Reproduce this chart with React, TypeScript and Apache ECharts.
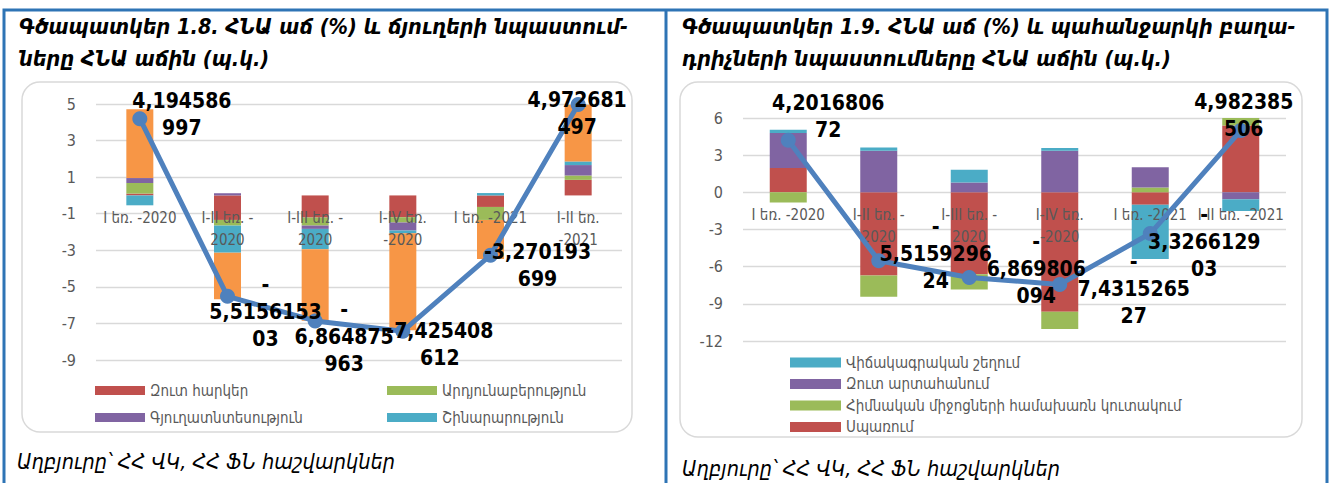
import React, { useEffect, useRef } from "react";
import * as echarts from "echarts";

// ---------- data ----------
const leftCategories = ["I եռ. -2020", "I-II եռ. -\n2020", "I-III եռ. -\n2020", "I-IV եռ.\n-2020", "I եռ. -2021", "I-II եռ.\n-2021"];
const rightCategories = ["I եռ. -2020", "I-II եռ. -\n2020", "I-III եռ. -\n2020", "I-IV եռ.\n-2020", "I եռ. -2021", "I-II եռ. -2021"];

// Chart 1.8 – branch contributions (p.p.)
const netTaxes = [0.1, -1.34, -1.21, -1.19, -0.63, 0.85];
const industry = [0.58, -0.31, -0.44, -0.29, -0.71, 0.24];
const agriculture = [0.27, 0.12, -0.18, -0.44, 0, 0.57];
const construction = [-0.54, -1.48, -1.11, -0.15, 0.13, 0.2];
const services = [3.76, -2.55, -3.92, -5.3, -2.13, 3.1];
const gdpGrowthLeft = [4.194586997, -5.515615303, -6.864875963, -7.425408612, -3.270193699, 4.972681497];
const gdpLabelsLeft = ["4,194586\n997", "-\n5,5156153\n03", "-\n6,864875\n963", "-7,425408\n612", "-3,270193\n699", "4,972681\n497"];

// Chart 1.9 – demand contributions (p.p.)
const consumption = [1.96, -6.72, -6.62, -9.64, -1.01, 5.4];
const investment = [-0.82, -1.7, -1.22, -1.4, 0.4, 1.05];
const netExports = [2.83, 3.35, 0.79, 3.35, 1.62, -0.55];
const discrepancy = [0.27, 0.27, 1.03, 0.22, -4.37, -0.95];
const gdpGrowthRight = [4.201680672, -5.515929624, -6.869806094, -7.431526527, -3.326612903, 4.982385506];
const gdpLabelsRight = ["4,2016806\n72", "-\n5,5159296\n24", "-\n6,869806\n094", "-\n7,4315265\n27", "-\n3,3266129\n03", "4,982385\n506"];

const leftYTicks = { min: -9, max: 5, interval: 2 };
const rightYTicks = { min: -12, max: 6, interval: 3 };

// ---------- styling ----------
const FF = "'DejaVu Sans Condensed', 'DejaVu Sans', sans-serif";
const RED = "#C0504D";
const GREEN = "#9BBB59";
const PURPLE = "#8064A2";
const CYAN = "#4BACC6";
const ORANGE = "#F79646";
const LINE = "#4F81BD";
const AXIS_TXT = "#595959";
const GRIDC = "#D9D9D9";
const BORDER = "#2E74B5";

const leftLabelOffsets = [[42, -4], [38, 16], [29, 16], [37, 13], [47, 10], [-1, 9]];
const rightLabelOffsets = [[40, -24], [57, -7], [67, -8], [74, 5], [54, 8], [3, -15]];

const leftGrid = { left: 96, top: 104, width: 526, height: 256 };
const rightGrid = { left: 743, top: 118, width: 543, height: 223 };

export default function App() {
  const ref = useRef<HTMLDivElement>(null);
  useEffect(() => {
    if (!ref.current) return;
    const chart = echarts.init(ref.current, undefined, { renderer: "svg" });

    const barSeries = (name: string, data: number[], color: string, axis: number, stack: string, w: number) => ({
      name,
      type: "bar",
      stack,
      xAxisIndex: axis,
      yAxisIndex: axis,
      barWidth: w,
      data,
      itemStyle: { color },
      emphasis: { disabled: true },
    });

    const lineSeries = (name: string, data: number[], labels: string[], offsets: number[][], axis: number) => ({
      name,
      type: "line",
      xAxisIndex: axis,
      yAxisIndex: axis,
      z: 10,
      data: data.map((v, i) => ({ value: v, label: { offset: offsets[i] } })),
      symbol: "circle",
      symbolSize: 15,
      lineStyle: { width: 5, color: LINE },
      itemStyle: { color: LINE },
      label: {
        show: true,
        position: "inside",
        formatter: (p: any) => labels[p.dataIndex],
        fontFamily: FF,
        fontSize: 21,
        fontWeight: "bold",
        color: "#000",
        lineHeight: 27,
        align: "center",
        verticalAlign: "middle",
      },
      emphasis: { disabled: true },
    });

    // main category axes (no labels; labels drawn by the zero-line axes below)
    const xAxisMain = (cats: string[], grid: number) => ({
      type: "category",
      gridIndex: grid,
      data: cats,
      axisLine: { show: false },
      axisTick: { show: false },
      axisLabel: { show: false },
    });
    // label axes sitting on the zero line, drawn above the bars
    const xAxisLabels = (cats: string[], grid: number) => ({
      type: "category",
      gridIndex: grid,
      data: cats,
      position: "bottom",
      z: 5,
      axisLine: { show: false },
      axisTick: { show: false },
      axisLabel: { interval: 0, color: AXIS_TXT, fontFamily: FF, fontSize: 15, lineHeight: 22, margin: 12 },
    });

    const yAxisBase = (t: any, grid: number) => ({
      type: "value",
      gridIndex: grid,
      min: t.min,
      max: t.max,
      interval: t.interval,
      axisLine: { show: false },
      axisTick: { show: false },
      splitLine: { lineStyle: { color: GRIDC, width: 1.3 } },
      axisLabel: { color: AXIS_TXT, fontFamily: FF, fontSize: 16, margin: 20 },
    });
    const yAxisHidden = (grid: number) => ({ type: "value", gridIndex: grid, show: false });

    const zeroGrid = (g: any, t: any) => ({
      left: g.left,
      top: g.top,
      width: g.width,
      height: (g.height * t.max) / (t.max - t.min),
    });

    const legendText = { color: AXIS_TXT, fontFamily: FF, fontSize: 15 };

    const title = (text: string, x: number, y: number) => ({
      type: "text",
      x,
      y,
      style: { text, font: `italic bold 21.5px ${FF}`, fill: "#000", verticalAlign: "middle" },
    });
    const source = (x: number, y: number) => ({
      type: "text",
      x,
      y,
      style: { text: "Աղբյուրը՝ ՀՀ ՎԿ, ՀՀ ՖՆ հաշվարկներ", font: `italic 21.5px ${FF}`, fill: "#000", verticalAlign: "middle" },
    });

    chart.setOption({
      animation: false,
      backgroundColor: "#fff",
      grid: [leftGrid, rightGrid, zeroGrid(leftGrid, leftYTicks), zeroGrid(rightGrid, rightYTicks)],
      xAxis: [xAxisMain(leftCategories, 0), xAxisMain(rightCategories, 1), xAxisLabels(leftCategories, 2), xAxisLabels(rightCategories, 3)],
      yAxis: [yAxisBase(leftYTicks, 0), yAxisBase(rightYTicks, 1), yAxisHidden(2), yAxisHidden(3)],
      legend: [
        { data: ["Զուտ հարկեր", "Գյուղատնտեսություն"], orient: "vertical", left: 95, top: 383, padding: 0, itemWidth: 50, itemHeight: 9, itemGap: 12, icon: "rect", textStyle: legendText, selectedMode: false },
        { data: ["Արդյունաբերություն", "Շինարարություն"], orient: "vertical", left: 387, top: 383, padding: 0, itemWidth: 50, itemHeight: 9, itemGap: 12, icon: "rect", textStyle: legendText, selectedMode: false },
        { data: ["Վիճակագրական շեղում", "Զուտ արտահանում", "Հիմնական միջոցների համախառն կուտակում", "Սպառում"], orient: "vertical", left: 790, top: 355, padding: 0, itemWidth: 51, itemHeight: 10, itemGap: 6.5, icon: "rect", textStyle: legendText, selectedMode: false },
      ],
      graphic: [
        // panel borders
        { type: "polyline", shape: { points: [[4, 483], [4, 10], [1327, 10], [1327, 483]] }, style: { stroke: BORDER, lineWidth: 3, fill: null } },
        { type: "line", shape: { x1: 666, y1: 10, x2: 666, y2: 483 }, style: { stroke: BORDER, lineWidth: 3 } },
        // chart boxes
        { type: "rect", shape: { x: 22, y: 82, width: 610, height: 350, r: 18 }, style: { stroke: "#D9D9D9", lineWidth: 1.5, fill: null }, z: -1 },
        { type: "rect", shape: { x: 680, y: 82, width: 622, height: 355, r: 18 }, style: { stroke: "#D9D9D9", lineWidth: 1.5, fill: null }, z: -1 },
        title("Գծապատկեր 1.8. ՀՆԱ աճ (%) և ճյուղերի նպաստում-", 19, 26),
        title("ները ՀՆԱ աճին (պ.կ.)", 19, 58),
        title("Գծապատկեր 1.9. ՀՆԱ աճ (%) և պահանջարկի բաղա-", 682, 26),
        title("դրիչների նպաստումները ՀՆԱ աճին (պ.կ.)", 682, 58),
        source(17, 461),
        source(682, 468),
      ],
      series: [
        barSeries("Զուտ հարկեր", netTaxes, RED, 0, "a", 27),
        barSeries("Արդյունաբերություն", industry, GREEN, 0, "a", 27),
        barSeries("Գյուղատնտեսություն", agriculture, PURPLE, 0, "a", 27),
        barSeries("Շինարարություն", construction, CYAN, 0, "a", 27),
        barSeries("Ծառայություններ", services, ORANGE, 0, "a", 27),
        lineSeries("ՀՆԱ աճ (1.8)", gdpGrowthLeft, gdpLabelsLeft, leftLabelOffsets, 0),
        barSeries("Սպառում", consumption, RED, 1, "b", 37),
        barSeries("Հիմնական միջոցների համախառն կուտակում", investment, GREEN, 1, "b", 37),
        barSeries("Զուտ արտահանում", netExports, PURPLE, 1, "b", 37),
        barSeries("Վիճակագրական շեղում", discrepancy, CYAN, 1, "b", 37),
        lineSeries("ՀՆԱ աճ (1.9)", gdpGrowthRight, gdpLabelsRight, rightLabelOffsets, 1),
      ],
    });
    return () => chart.dispose();
  }, []);

  return <div ref={ref} style={{ position: "absolute", left: 0, top: 0, width: 1336, height: 483, background: "#fff" }} />;
}
